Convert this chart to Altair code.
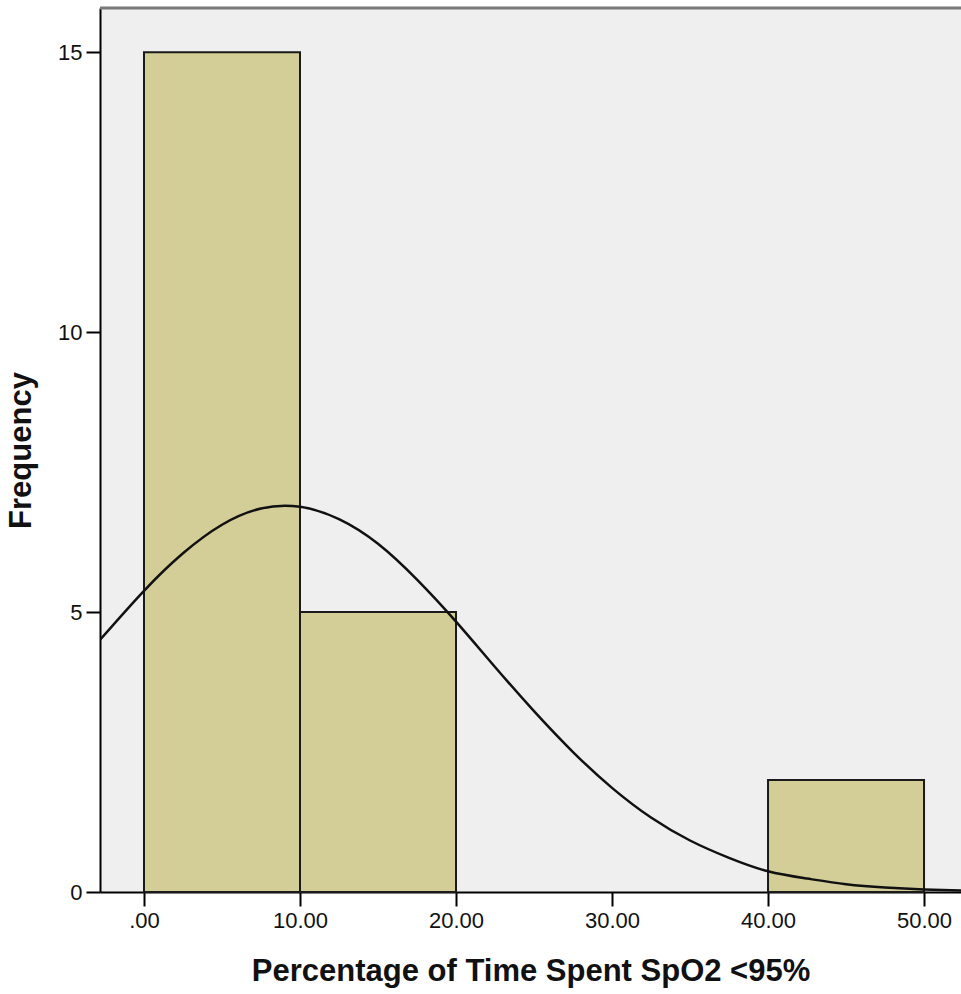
import altair as alt
import pandas as pd

# Histogram bins (Percentage of Time Spent SpO2 <95%)
bin_start = [0, 10, 20, 30, 40]
bin_end = [10, 20, 30, 40, 50]
counts = [15, 5, 0, 0, 2]

# Normal curve, values
curve_x = [-2.8, 0, 2.5, 5, 7.5, 10, 12.5, 15, 17.5, 20, 22.5, 25, 27.5, 30,
           32.5, 35, 37.5, 40, 42.5, 45, 47.5, 50, 52.4]
curve_y = [4.51, 5.38, 6.05, 6.56, 6.85, 6.88, 6.66, 6.22, 5.58, 4.83, 4.02, 3.23,
           2.50, 1.86, 1.33, 0.92, 0.61, 0.37, 0.24, 0.14, 0.08, 0.045, 0.025]

x_ticks = [0, 10, 20, 30, 40, 50]
y_ticks = [0, 5, 10, 15]

bars = pd.DataFrame({"start": bin_start, "end": bin_end, "count": counts})
bars = bars[bars["count"] > 0]
curve = pd.DataFrame({"x": curve_x, "y": curve_y})

XD = [-2.82, 52.37]
YD = [0, 15.79]

xscale = alt.Scale(domain=XD, nice=False, zero=False)
yscale = alt.Scale(domain=YD, nice=False)

xaxis = alt.Axis(values=x_ticks, labelExpr="datum.value == 0 ? '.00' : format(datum.value, '.2f')",
                 title="Percentage of Time Spent SpO2 <95%", grid=False)
yaxis = alt.Axis(values=y_ticks, format="d", title="Frequency", grid=False)

rects = alt.Chart(bars).mark_rect(fill="#d3ce97", stroke="#1a1a1a", strokeWidth=2).encode(
    x=alt.X("start:Q", scale=xscale, axis=xaxis),
    x2="end:Q",
    y=alt.Y("count:Q", scale=yscale, axis=yaxis),
    y2=alt.datum(0),
)

line = alt.Chart(curve).mark_line(color="#111111", strokeWidth=2.5, interpolate="natural", clip=True).encode(
    x=alt.X("x:Q", scale=xscale),
    y=alt.Y("y:Q", scale=yscale),
)

top = alt.Chart(pd.DataFrame({"a": [0]})).mark_rule(color="#7a7a7a", strokeWidth=3).encode(
    x=alt.value(0), x2=alt.value(861), y=alt.value(0)
)

chart = alt.layer(rects, line, top).properties(
    width=861, height=884,
    autosize=alt.AutoSizeParams(type="none"),
    padding={"left": 100, "top": 8, "right": 0, "bottom": 102},
    background="white",
).configure_view(
    fill="#efefef", stroke=None
).configure_axis(
    domainColor="black", domainWidth=2, tickColor="black", tickWidth=2, tickSize=14,
    labelFont="Liberation Sans", labelFontSize=22, labelColor="#111111", labelPadding=4,
    titleFont="Liberation Sans", titleFontSize=31, titleFontWeight="bold", titleColor="#111111",
).configure_axisX(
    titlePadding=25
).configure_axisY(
    titlePadding=20
)

chart.save("out.html", embed_options={"renderer": "svg", "actions": False})
